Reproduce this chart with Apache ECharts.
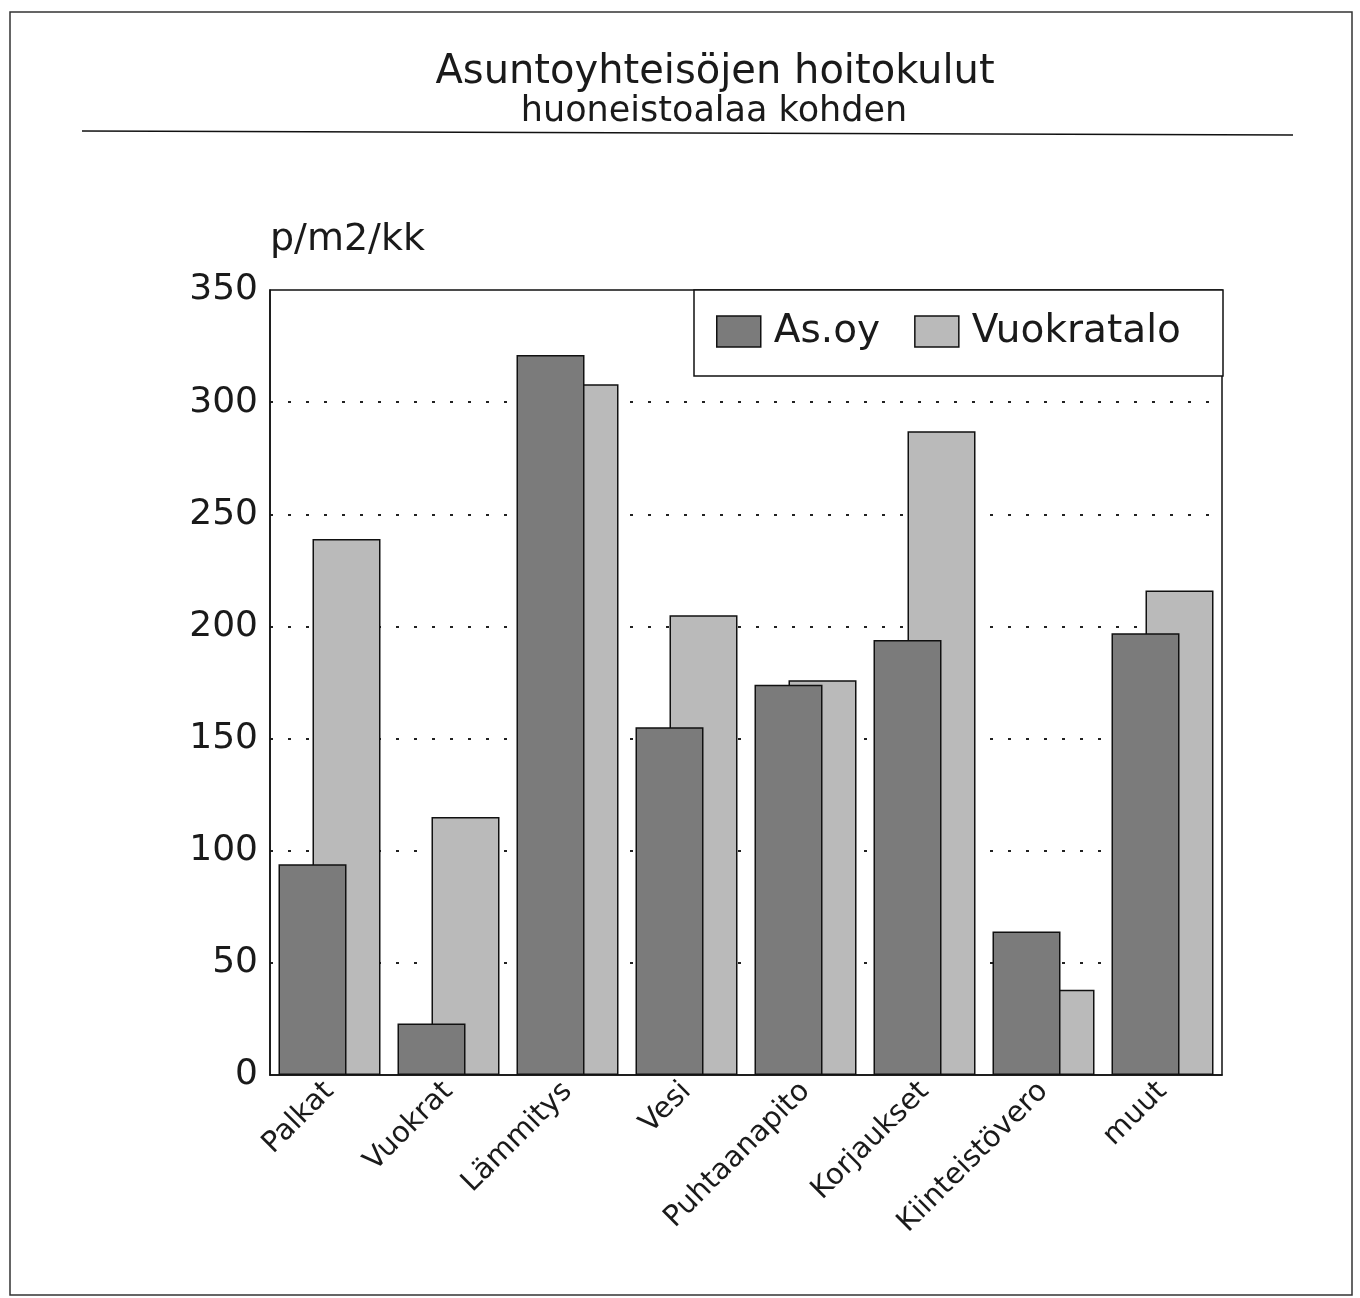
<!DOCTYPE html>
<html>
<head>
<meta charset="utf-8">
<script src="https://cdn.jsdelivr.net/npm/echarts@6/dist/echarts.min.js"></script>
<style>
html,body{margin:0;padding:0;background:#fff;}
#chart{width:1360px;height:1298px;}
</style>
</head>
<body>
<div id="chart"></div>
<script>
const categories = ['Palkat','Vuokrat','Lämmitys','Vesi','Puhtaanapito','Korjaukset','Kiinteistövero','muut'];
const asoyValues = [94, 23, 321, 155, 174, 194, 64, 197];
const vuokrataloValues = [239, 115, 308, 205, 176, 287, 38, 216];
const seriesNames = ['As.oy', 'Vuokratalo'];
const titleText = 'Asuntoyhteisöjen hoitokulut';
const subtitleText = 'huoneistoalaa kohden';
const unitLabel = 'p/m2/kk';

const FONT = '"DejaVu Sans", sans-serif';
const chart = echarts.init(document.getElementById('chart'), null, {renderer: 'canvas'});
chart.setOption({
  backgroundColor: '#fff',
  animation: false,
  title: [
    {text: titleText, left: 710, top: 48, textAlign: 'center',
     textStyle: {fontFamily: FONT, fontSize: 40, fontWeight: 'normal', color: '#1a1a1a'}},
    {text: subtitleText, left: 709, top: 89, textAlign: 'center',
     textStyle: {fontFamily: FONT, fontSize: 35, fontWeight: 'normal', color: '#1a1a1a'}}
  ],
  graphic: [
    {type: 'rect', shape: {x: 10, y: 12, width: 1342, height: 1283}, style: {fill: 'none', stroke: '#333', lineWidth: 1.5}, silent: true, z: 0},
    {type: 'line', shape: {x1: 82, y1: 131, x2: 1293, y2: 135}, style: {stroke: '#111', lineWidth: 1.5}, silent: true},
    {type: 'rect', shape: {x: 694, y: 290, width: 529, height: 86}, style: {fill: '#fff', stroke: '#111', lineWidth: 1.5}, silent: true, z: 5}
  ],
  legend: {
    left: 716, top: 312,
    icon: 'rect',
    itemWidth: 44, itemHeight: 31, itemGap: 34,
    padding: 0,
    z: 10,
    textStyle: {fontFamily: FONT, fontSize: 39, color: '#1a1a1a', padding: [0, 0, 0, 8]},
    itemStyle: {borderColor: '#111', borderWidth: 1.5},
    data: seriesNames
  },
  grid: {
    left: 270, right: 138, top: 290, bottom: 223,
    show: true, borderColor: '#111', borderWidth: 1.5
  },
  xAxis: {
    type: 'category',
    data: categories,
    axisLine: {lineStyle: {color: '#111', width: 1.5}},
    axisTick: {show: false},
    axisLabel: {rotate: 45, margin: 12, interval: 0, fontFamily: FONT, fontSize: 29, color: '#1a1a1a'}
  },
  yAxis: {
    type: 'value',
    min: 0, max: 350, interval: 50,
    name: unitLabel,
    nameLocation: 'end',
    nameGap: 50,
    nameTextStyle: {fontFamily: FONT, fontSize: 38, color: '#1a1a1a', align: 'left', verticalAlign: 'middle'},
    axisLine: {show: true, lineStyle: {color: '#111', width: 1.5}},
    axisTick: {show: false},
    axisLabel: {margin: 12, fontFamily: FONT, fontSize: 36, color: '#1a1a1a'},
    splitLine: {show: true, showMinLine: false, showMaxLine: false, lineStyle: {color: '#222', width: 2, type: [3, 15]}}
  },
  series: [
    {name: seriesNames[0], type: 'bar', data: asoyValues, barWidth: 68, barGap: '-50%', z: 3,
     itemStyle: {color: '#7b7b7b', borderColor: '#111', borderWidth: 1.5}},
    {name: seriesNames[1], type: 'bar', data: vuokrataloValues, barWidth: 68, z: 2,
     itemStyle: {color: '#bababa', borderColor: '#111', borderWidth: 1.5}}
  ]
});
</script>
</body>
</html>
